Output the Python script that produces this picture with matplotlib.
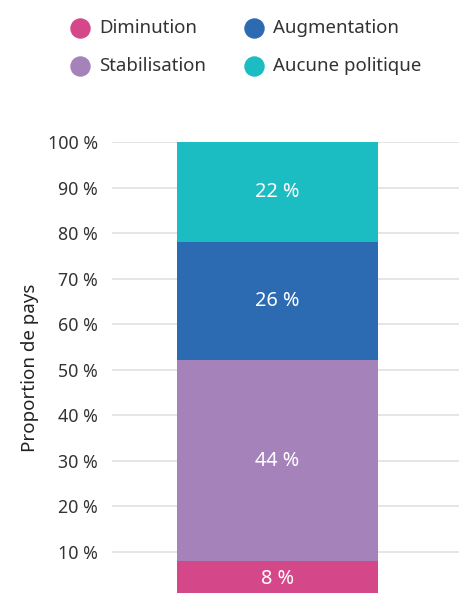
import matplotlib
matplotlib.use("Agg")
import matplotlib.pyplot as plt
from matplotlib.lines import Line2D

categories = ["Diminution", "Stabilisation", "Augmentation", "Aucune politique"]
values = [8, 44, 26, 22]
colors = ["#d4488a", "#a682bb", "#2c6ab2", "#1bbcc2"]
yticks = [10, 20, 30, 40, 50, 60, 70, 80, 90, 100]
ylabel = "Proportion de pays"

plt.rcParams['font.family'] = ['Noto Sans', 'DejaVu Sans']
W, H = 459, 593
fig = plt.figure(figsize=(W / 100, H / 100), dpi=100)

# axes placement in pixels
left_px, right_px = 112, 459
top_px, zero_px = 142, 597.2
ax = fig.add_axes([left_px / W, (H - zero_px) / H, (right_px - left_px) / W, (zero_px - top_px) / H])

bar_w = 0.6
bottom = 0
for v, c in zip(values, colors):
    ax.bar(0, v, bottom=bottom, width=bar_w, color=c, zorder=3)
    ax.text(0, bottom + v / 2, f"{v} %", ha="center", va="center", color="white",
            fontsize=14.3, zorder=4)
    bottom += v

ax.set_xlim(-0.494, 0.542)
ax.set_ylim(0, 100)
ax.set_yticks(yticks)
ax.set_yticklabels([f"{t} %" for t in yticks])
ax.set_xticks([])
ax.grid(axis="y", color="#e0e0e0", linewidth=1.2, zorder=0)
for s in ax.spines.values():
    s.set_visible(False)
ax.tick_params(axis="y", length=0, pad=10, labelsize=12.8, labelcolor="#333333")
fig.text(30 / W, 1 - 368 / H, ylabel, rotation=90, ha="center", va="center",
         fontsize=13.5, color="#222222")

# legend
pos = [(80, 28), (80, 66), (254, 28), (254, 66)]
for (cx, cy), lab, c in zip(pos, categories, colors):
    fig.add_artist(Line2D([cx / W], [1 - cy / H], marker="o", markersize=13.7,
                          color=c, linestyle="none", transform=fig.transFigure))
    fig.text((cx + 19) / W, 1 - cy / H, lab, ha="left", va="center",
             fontsize=13.4, color="#333333")

fig.savefig("out.png", dpi=100)
